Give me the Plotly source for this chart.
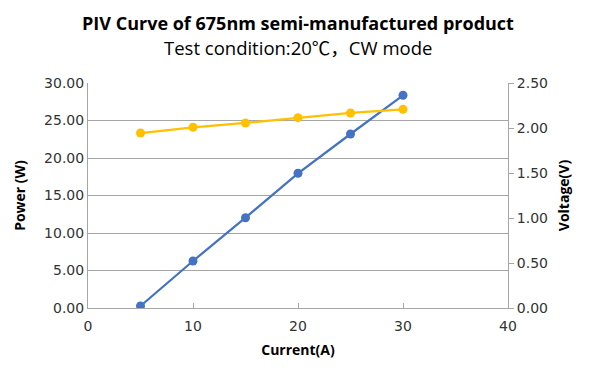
import plotly.graph_objects as go

current = [5, 10, 15, 20, 25, 30]
power = [0.27, 6.27, 12.04, 17.96, 23.2, 28.36]
voltage = [1.944, 2.008, 2.056, 2.115, 2.167, 2.207]

FONT = "Open Sans, Noto Sans CJK SC"
TICKFONT = "DejaVu Sans"
GRID = "#a6a6a6"
TICKCOL = "#333333"

fig = go.Figure()
fig.add_trace(go.Scatter(x=current, y=power, mode="lines+markers", name="Power",
                         line=dict(color="#4472C4", width=2.25),
                         marker=dict(color="#4472C4", size=9), yaxis="y"))
fig.add_trace(go.Scatter(x=current, y=voltage, mode="lines+markers", name="Voltage",
                         line=dict(color="#FFC000", width=2.25),
                         marker=dict(color="#FFC000", size=9), yaxis="y2"))

fig.update_layout(
    width=581, height=366,
    margin=dict(l=80, r=81, t=75, b=66),
    paper_bgcolor="white", plot_bgcolor="white",
    showlegend=False,
    font=dict(family=FONT, color="#404040", size=13),
    title=dict(
        text="<b>PIV Curve of 675nm semi-manufactured product</b>",
        x=0.5, xanchor="center", xref="paper", y=1 - 16 / 366, yanchor="middle", yref="container",
        font=dict(family=FONT, size=18, color="#000000")),
    annotations=[dict(text="Test condition:20℃，CW mode", x=0.5, xref="paper", xanchor="center",
                      y=1 + (75 - 39) / 225, yref="paper", yanchor="middle", showarrow=False,
                      font=dict(family=FONT, size=18.5, color="#000000"))],
    xaxis=dict(range=[0, 40], dtick=10, showgrid=False, zeroline=False,
               showline=True, linecolor=GRID, linewidth=1, mirror=False,
               ticks="inside", ticklen=5, tickcolor=GRID, ticklabelstandoff=5,
               tickfont=dict(family=TICKFONT, size=14, color=TICKCOL),
               title=dict(text="<b>Current(A)</b>", font=dict(size=14, color="#000000"), standoff=12)),
    yaxis=dict(range=[0, 30], dtick=5, tickformat=".2f", showgrid=True, gridcolor=GRID,
               zeroline=False, showline=True, linecolor=GRID, linewidth=1,
               ticks="", tickfont=dict(family=TICKFONT, size=14, color=TICKCOL),
               title=dict(text="<b>Power (W)</b>", font=dict(size=14, color="#000000"), standoff=15)),
    yaxis2=dict(range=[0, 2.5], dtick=0.5, tickformat=".2f", overlaying="y", side="right",
                showgrid=False, zeroline=False, showline=True, linecolor=GRID, linewidth=1,
                ticks="outside", ticklen=5, tickcolor=GRID,
                tickfont=dict(family=TICKFONT, size=14, color=TICKCOL),
                title=dict(text="<b>Voltage(V)</b>", font=dict(size=14, color="#000000"), standoff=12)),
)

fig.write_html("out.html")
